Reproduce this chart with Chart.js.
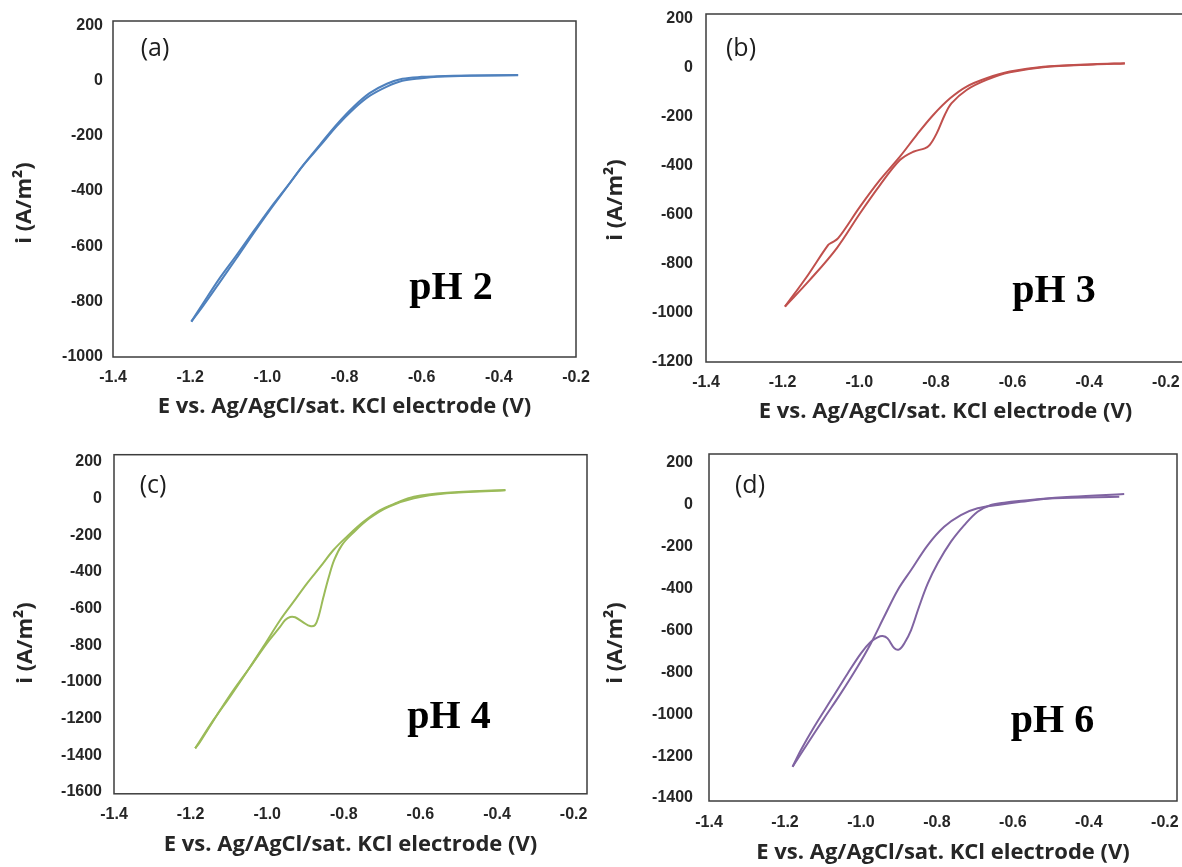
<!DOCTYPE html>
<html>
<head>
<meta charset="utf-8">
<script src="https://cdn.jsdelivr.net/npm/chart.js@4.4.1/dist/chart.umd.min.js"></script>
<style>
html,body{margin:0;padding:0;background:#fff;width:1182px;height:867px;overflow:hidden;position:relative}
canvas{position:absolute}
</style>
</head>
<body>
<canvas id="cA" width="600" height="430" style="left:0px;top:0px;width:600px;height:430px"></canvas>
<canvas id="cB" width="620" height="430" style="left:590px;top:0px;width:620px;height:430px"></canvas>
<canvas id="cC" width="600" height="437" style="left:0px;top:430px;width:600px;height:437px"></canvas>
<canvas id="cD" width="600" height="437" style="left:590px;top:430px;width:600px;height:437px"></canvas>
<script>
// ---------- tick labels & texts ----------
const xTickValues = [-1.4, -1.2, -1.0, -0.8, -0.6, -0.4, -0.2];
const yTicksA = [200, 0, -200, -400, -600, -800, -1000];
const yTicksB = [200, 0, -200, -400, -600, -800, -1000, -1200];
const yTicksC = [200, 0, -200, -400, -600, -800, -1000, -1200, -1400, -1600];
const yTicksD = [200, 0, -200, -400, -600, -800, -1000, -1200, -1400];
const xTitle = 'E vs. Ag/AgCl/sat. KCl electrode (V)';
const yTitle = 'i (A/m²)';
const panelLetters = ['(a)', '(b)', '(c)', '(d)'];
const phLabels = ['pH 2', 'pH 3', 'pH 4', 'pH 6'];

// ---------- pH 2 ----------
const pH2FwdE = [-0.35, -0.475, -0.56, -0.60, -0.65, -0.69, -0.735, -0.777, -0.82, -0.863, -0.907, -0.95, -0.993, -1.036, -1.08, -1.123, -1.166, -1.197];
const pH2FwdI = [19, 17, 13, 8, -1, -22, -56, -104, -165, -236, -307, -386, -463, -546, -632, -714, -805, -872];
const pH2RevE = [-1.197, -1.166, -1.123, -1.08, -1.036, -0.993, -0.95, -0.907, -0.863, -0.82, -0.777, -0.735, -0.69, -0.65, -0.60, -0.56, -0.475, -0.35];
const pH2RevI = [-872, -814, -729, -643, -553, -468, -387, -306, -231, -159, -96, -46, -12, 6, 13, 15, 18, 20];

// ---------- pH 3 ----------
const pH3FwdE = [-0.307, -0.39, -0.52, -0.607, -0.668, -0.72, -0.759, -0.777, -0.798, -0.816, -0.829, -0.859, -0.894, -0.946, -0.998, -1.059, -1.129, -1.194];
const pH3FwdI = [18, 14, 3, -18, -49, -90, -144, -192, -267, -314, -328, -342, -376, -478, -593, -736, -865, -974];
const pH3RevE = [-1.194, -1.137, -1.081, -1.072, -1.055, -0.998, -0.946, -0.894, -0.85, -0.807, -0.763, -0.72, -0.668, -0.607, -0.52, -0.39, -0.307];
const pH3RevI = [-974, -852, -722, -713, -695, -566, -457, -362, -273, -192, -124, -76, -42, -15, 5, 15, 19];

// ---------- pH 4 ----------
const pH4FwdE = [-0.378, -0.531, -0.617, -0.683, -0.733, -0.777, -0.805, -0.825, -0.839, -0.853, -0.866, -0.875, -0.888, -0.905, -0.927, -0.94, -0.953, -0.966, -1.001, -1.044, -1.088, -1.131, -1.175, -1.188];
const pH4FwdI = [46, 29, 2, -44, -107, -189, -253, -334, -426, -535, -644, -689, -695, -676, -647, -645, -662, -698, -789, -917, -1044, -1180, -1326, -1362];
const pH4RevE = [-1.188, -1.14, -1.097, -1.053, -1.01, -0.966, -0.931, -0.896, -0.861, -0.827, -0.792, -0.748, -0.705, -0.661, -0.617, -0.531, -0.378];
const pH4RevI = [-1362, -1207, -1080, -944, -807, -662, -562, -462, -371, -280, -207, -125, -62, -22, 11, 33, 48];

// ---------- pH 6 ----------
const pH6FwdE = [-0.307, -0.447, -0.535, -0.623, -0.658, -0.693, -0.728, -0.763, -0.798, -0.824, -0.847, -0.868, -0.886, -0.899, -0.912, -0.930, -0.943, -0.956, -0.974, -1.0, -1.035, -1.079, -1.123, -1.158, -1.18];
const pH6FwdI = [49, 36, 24, 8, -3, -35, -99, -178, -281, -377, -488, -599, -663, -691, -686, -639, -628, -634, -655, -710, -806, -933, -1060, -1171, -1251];
const pH6RevE = [-1.18, -1.14, -1.097, -1.053, -1.009, -0.974, -0.939, -0.903, -0.868, -0.824, -0.781, -0.737, -0.693, -0.640, -0.579, -0.491, -0.320];
const pH6RevI = [-1251, -1139, -1020, -901, -774, -663, -536, -408, -313, -194, -107, -51, -19, -3, 12, 29, 36];

const pts = (E, I) => E.map((e, k) => ({x: e, y: I[k]}));

const framePlugin = {
  id: 'panelDecor',
  beforeDatasetsDraw(chart, args, o) {
    const {ctx, chartArea: a} = chart;
    ctx.save();
    ctx.strokeStyle = '#3c3c3c';
    ctx.lineWidth = 1.5;
    ctx.strokeRect(a.left, a.top, a.right - a.left, a.bottom - a.top);
    ctx.restore();
  },
  afterDraw(chart, args, o) {
    const ctx = chart.ctx;
    ctx.save();
    ctx.fillStyle = '#1e1e1e';
    ctx.textAlign = 'center';
    ctx.textBaseline = 'middle';
    ctx.font = '25px "Open Sans"';
    ctx.fillText(o.letter, o.letterPos[0], o.letterPos[1]);
    ctx.fillStyle = '#000';
    ctx.textBaseline = 'alphabetic';
    ctx.font = 'bold 40px "Liberation Serif"';
    ctx.fillText(o.ph, o.phPos[0], o.phPos[1]);
    ctx.fillStyle = '#262626';
    ctx.translate(o.yTitlePos[0], o.yTitlePos[1]);
    ctx.rotate(-Math.PI / 2);
    ctx.textBaseline = 'middle';
    ctx.font = 'bold 22px "Open Sans"';
    ctx.fillText(yTitle, 0, 0);
    ctx.restore();
  }
};

function makePanel(id, g, color, fwd, rev, yTicks, idx) {
  new Chart(document.getElementById(id), {
    type: 'scatter',
    data: {
      datasets: [
        {label: 'forward', data: fwd, showLine: true, borderColor: color, backgroundColor: color, borderWidth: 2, pointRadius: 0, tension: 0.35},
        {label: 'reverse', data: rev, showLine: true, borderColor: color, backgroundColor: color, borderWidth: 2, pointRadius: 0, tension: 0.35}
      ]
    },
    options: {
      responsive: false,
      animation: false,
      devicePixelRatio: 1,
      layout: {padding: g.pad},
      plugins: {
        legend: {display: false},
        tooltip: {enabled: false},
        panelDecor: {letter: panelLetters[idx], ph: phLabels[idx], letterPos: g.letterPos, phPos: g.phPos, yTitlePos: g.yTitlePos}
      },
      scales: {
        x: {
          type: 'linear', position: 'bottom', min: g.xMin, max: g.xMax,
          grid: {display: false, drawTicks: false},
          border: {display: false},
          afterBuildTicks: s => { s.ticks = xTickValues.map(v => ({value: v})); },
          afterFit: s => { s.height = g.xH; s.paddingLeft = 0; s.paddingRight = 0; },
          ticks: {padding: g.tickPadX, autoSkip: false, maxRotation: 0, color: '#262626',
                  font: {family: 'Liberation Sans', size: 16, weight: 'bold'},
                  callback: v => Number(v).toFixed(1)},
          title: {display: true, text: xTitle, color: '#262626',
                  font: {family: 'Open Sans', size: 22, weight: 'bold'},
                  padding: {top: 0, bottom: g.titlePadB}}
        },
        y: {
          type: 'linear', position: 'left', min: g.yMin, max: g.yMax,
          grid: {display: false, drawTicks: false},
          border: {display: false},
          afterBuildTicks: s => { s.ticks = yTicks.map(v => ({value: v})); },
          afterFit: s => { s.width = g.yW; s.paddingTop = 0; s.paddingBottom = 0; },
          ticks: {padding: g.tickPadY, autoSkip: false, color: '#262626',
                  font: {family: 'Liberation Sans', size: 16, weight: 'bold'},
                  callback: v => String(v)},
          title: {display: false}
        }
      }
    },
    plugins: [framePlugin]
  });
}

makePanel('cA', {yW: 113, xH: 73, pad: {left: 0, top: 21, right: 24, bottom: 0}, xMin: -1.4, xMax: -0.2, yMin: -1000, yMax: 215,
  tickPadX: 11.4, tickPadY: 10, titlePadB: 9.8, letterPos: [155, 49], phPos: [451, 299], yTitlePos: [25, 203]},
  '#4f81bd', pts(pH2FwdE, pH2FwdI), pts(pH2RevE, pH2RevI), yTicksA, 0);

makePanel('cB', {yW: 116, xH: 68, pad: {left: 0, top: 14, right: 25, bottom: 0}, xMin: -1.4, xMax: -0.15, yMin: -1200, yMax: 220,
  tickPadX: 11.4, tickPadY: 13, titlePadB: 5.1, letterPos: [151, 49], phPos: [464, 302], yTitlePos: [26, 200]},
  '#c0504d', pts(pH3FwdE, pH3FwdI), pts(pH3RevE, pH3RevI), yTicksB, 1);

makePanel('cC', {yW: 114, xH: 73.2, pad: {left: 0, top: 24.7, right: 13, bottom: 0}, xMin: -1.4, xMax: -0.165, yMin: -1610, yMax: 240,
  tickPadX: 11.6, tickPadY: 12, titlePadB: 8.8, letterPos: [153, 56], phPos: [449, 298], yTitlePos: [26, 213]},
  '#9bbb59', pts(pH4FwdE, pH4FwdI), pts(pH4RevE, pH4RevI), yTicksC, 2);

makePanel('cD', {yW: 119, xH: 66, pad: {left: 0, top: 24, right: 13, bottom: 0}, xMin: -1.4, xMax: -0.168, yMin: -1414, yMax: 240,
  tickPadX: 12.1, tickPadY: 16, titlePadB: 0.8, letterPos: [160, 56], phPos: [462.5, 302], yTitlePos: [26, 213]},
  '#8064a2', pts(pH6FwdE, pH6FwdI), pts(pH6RevE, pH6RevI), yTicksD, 3);
</script>
</body>
</html>
